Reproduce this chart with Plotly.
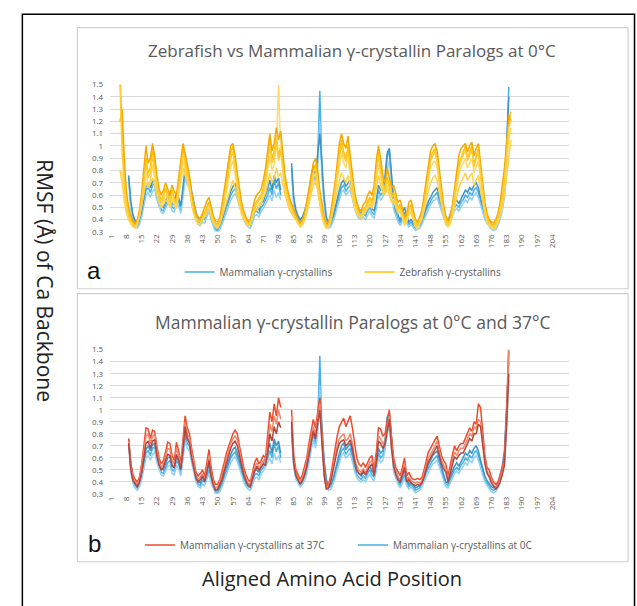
import plotly.graph_objects as go

W, H = 637, 606

# ---------------- data ----------------
tick_positions = [1, 8, 15, 22, 29, 36, 43, 50, 57, 64, 71, 78, 85, 92, 99, 106, 113, 120,
                  127, 134, 141, 148, 155, 162, 169, 176, 183, 190, 197, 204]
tick_labels = [str(t) for t in tick_positions]
y_ticks = [0.3, 0.4, 0.5, 0.6, 0.7, 0.8, 0.9, 1.0, 1.1, 1.2, 1.3, 1.4, 1.5]
y_tick_labels = ["0.3", "0.4", "0.5", "0.6", "0.7", "0.8", "0.9", "1", "1.1", "1.2", "1.3", "1.4", "1.5"]

MAM_START = 9   # first aligned position of mammalian series
ZF_START = 5    # first aligned position of zebrafish series

# Mammalian gamma-crystallins at 0 C (positions 9..184, gap 80-83)
mam0_1 = [0.74,0.52,0.42,0.37,0.35,0.38,0.45,0.55,0.64,0.66,
          0.62,0.68,0.69,0.60,0.53,0.48,0.47,0.52,0.56,0.58,
          0.50,0.49,0.58,0.55,0.48,0.62,0.79,0.72,0.70,0.60,
          0.50,0.43,0.38,0.37,0.41,0.40,0.45,0.50,0.42,0.36,
          0.32,0.31,0.34,0.38,0.44,0.50,0.55,0.60,0.63,0.65,
          0.60,0.54,0.48,0.42,0.38,0.36,0.35,0.40,0.46,0.47,
          0.45,0.50,0.52,0.56,0.60,0.66,0.60,0.72,0.65,0.70,
          0.60,None,None,None,None,0.82,0.55,0.45,0.41,0.38,
          0.40,0.44,0.50,0.58,0.70,0.80,0.72,0.88,1.45,0.80,
          0.55,0.40,0.35,0.36,0.40,0.46,0.54,0.60,0.66,0.68,
          0.63,0.66,0.68,0.60,0.52,0.46,0.44,0.42,0.45,0.43,
          0.47,0.50,0.46,0.44,0.52,0.64,0.60,0.62,0.70,0.90,
          0.97,0.70,0.52,0.46,0.40,0.37,0.42,0.46,0.40,0.36,
          0.38,0.35,0.33,0.34,0.35,0.38,0.42,0.48,0.52,0.55,
          0.58,0.60,0.62,0.55,0.50,0.44,0.38,0.37,0.42,0.46,
          0.50,0.52,0.50,0.54,0.56,0.60,0.58,0.62,0.60,0.64,
          0.66,0.62,0.55,0.48,0.42,0.39,0.36,0.34,0.33,0.34,
          0.37,0.42,0.50,0.62,0.95,1.48]
mam0_2 = [0.72,0.48,0.39,0.35,0.33,0.36,0.42,0.52,0.60,0.62,
          0.58,0.63,0.65,0.56,0.50,0.46,0.45,0.49,0.53,0.54,
          0.47,0.46,0.54,0.51,0.45,0.58,0.74,0.68,0.66,0.56,
          0.47,0.40,0.36,0.35,0.38,0.37,0.42,0.47,0.39,0.34,
          0.30,0.30,0.32,0.36,0.41,0.47,0.52,0.56,0.59,0.61,
          0.57,0.51,0.45,0.40,0.36,0.34,0.33,0.37,0.43,0.44,
          0.42,0.47,0.49,0.52,0.56,0.60,0.55,0.64,0.58,0.62,
          0.56,None,None,None,None,0.78,0.52,0.42,0.39,0.36,
          0.38,0.41,0.47,0.55,0.66,0.75,0.68,0.80,1.20,0.74,
          0.52,0.38,0.33,0.34,0.38,0.43,0.50,0.56,0.62,0.64,
          0.60,0.62,0.64,0.57,0.49,0.44,0.41,0.40,0.42,0.40,
          0.44,0.47,0.43,0.41,0.49,0.60,0.56,0.58,0.66,0.80,
          0.88,0.65,0.48,0.43,0.38,0.35,0.39,0.43,0.37,0.34,
          0.36,0.33,0.31,0.32,0.33,0.36,0.40,0.45,0.49,0.52,
          0.55,0.56,0.58,0.52,0.47,0.41,0.36,0.35,0.39,0.43,
          0.47,0.49,0.47,0.50,0.53,0.56,0.54,0.58,0.56,0.60,
          0.62,0.58,0.52,0.45,0.40,0.37,0.34,0.32,0.31,0.32,
          0.35,0.40,0.47,0.58,0.85,1.25]
mam0_3 = [0.76,0.55,0.44,0.39,0.37,0.40,0.48,0.58,0.67,0.70,
          0.66,0.71,0.72,0.63,0.56,0.51,0.50,0.55,0.60,0.61,
          0.53,0.52,0.61,0.58,0.51,0.66,0.82,0.76,0.73,0.63,
          0.53,0.46,0.41,0.39,0.44,0.43,0.49,0.54,0.45,0.38,
          0.34,0.33,0.36,0.40,0.47,0.53,0.58,0.63,0.67,0.69,
          0.64,0.57,0.51,0.45,0.40,0.38,0.37,0.43,0.49,0.50,
          0.48,0.53,0.55,0.60,0.65,0.72,0.64,0.76,0.70,0.74,
          0.64,None,None,None,None,0.86,0.58,0.48,0.43,0.40,
          0.42,0.47,0.53,0.62,0.74,0.84,0.76,0.92,1.10,0.85,
          0.58,0.42,0.37,0.38,0.42,0.49,0.57,0.64,0.70,0.72,
          0.67,0.70,0.72,0.64,0.55,0.49,0.47,0.45,0.48,0.46,
          0.50,0.53,0.49,0.47,0.55,0.68,0.64,0.66,0.75,0.94,
          0.98,0.75,0.56,0.49,0.43,0.39,0.45,0.50,0.43,0.38,
          0.40,0.37,0.35,0.36,0.37,0.40,0.45,0.51,0.55,0.58,
          0.62,0.64,0.66,0.59,0.53,0.47,0.40,0.39,0.45,0.49,
          0.53,0.56,0.53,0.57,0.60,0.64,0.62,0.66,0.64,0.68,
          0.70,0.66,0.58,0.51,0.45,0.41,0.38,0.36,0.35,0.36,
          0.39,0.45,0.53,0.66,1.00,1.40]

# Mammalian gamma-crystallins at 37 C (positions 9..184, gap 80-83)
mam37_1 = [0.76,0.55,0.46,0.42,0.40,0.44,0.55,0.70,0.85,0.84,
           0.76,0.83,0.82,0.70,0.60,0.55,0.58,0.65,0.73,0.72,
           0.62,0.58,0.73,0.66,0.55,0.75,0.95,0.85,0.80,0.68,
           0.56,0.48,0.45,0.47,0.50,0.45,0.56,0.67,0.52,0.42,
           0.38,0.38,0.42,0.48,0.56,0.64,0.70,0.76,0.80,0.83,
           0.80,0.70,0.60,0.52,0.46,0.42,0.40,0.48,0.56,0.60,
           0.55,0.58,0.62,0.60,0.78,0.98,0.90,1.05,0.95,1.10,
           1.02,None,None,None,None,1.00,0.62,0.50,0.46,0.42,
           0.46,0.52,0.60,0.72,0.84,0.92,0.85,1.00,1.10,0.80,
           0.50,0.37,0.38,0.45,0.56,0.68,0.78,0.86,0.90,0.93,
           0.86,0.90,0.95,0.85,0.70,0.60,0.55,0.53,0.56,0.52,
           0.56,0.60,0.62,0.50,0.65,0.85,0.84,0.78,0.80,0.92,
           1.00,0.78,0.60,0.52,0.48,0.45,0.52,0.60,0.45,0.48,
           0.44,0.42,0.42,0.43,0.42,0.44,0.50,0.58,0.65,0.68,
           0.72,0.75,0.78,0.70,0.62,0.58,0.55,0.45,0.55,0.62,
           0.70,0.66,0.70,0.72,0.72,0.76,0.80,0.85,0.82,0.90,
           0.88,1.05,1.02,0.80,0.62,0.52,0.50,0.44,0.40,0.38,
           0.40,0.45,0.52,0.60,1.00,1.55]
mam37_2 = [0.74,0.52,0.43,0.40,0.38,0.42,0.52,0.65,0.78,0.80,
           0.72,0.78,0.80,0.66,0.57,0.52,0.55,0.62,0.68,0.67,
           0.58,0.55,0.68,0.62,0.52,0.70,0.90,0.80,0.76,0.64,
           0.53,0.45,0.42,0.44,0.47,0.42,0.52,0.62,0.48,0.39,
           0.35,0.36,0.40,0.45,0.52,0.60,0.66,0.72,0.76,0.78,
           0.75,0.66,0.56,0.48,0.43,0.39,0.38,0.45,0.52,0.56,
           0.52,0.55,0.58,0.57,0.70,0.88,0.82,0.95,0.88,1.00,
           0.92,None,None,None,None,0.95,0.58,0.47,0.43,0.40,
           0.43,0.49,0.56,0.67,0.78,0.86,0.80,0.95,1.05,0.75,
           0.47,0.35,0.36,0.42,0.52,0.62,0.70,0.76,0.78,0.80,
           0.74,0.76,0.80,0.72,0.60,0.53,0.50,0.48,0.51,0.48,
           0.52,0.56,0.58,0.47,0.60,0.78,0.76,0.72,0.74,0.86,
           0.95,0.72,0.56,0.48,0.44,0.42,0.48,0.55,0.42,0.44,
           0.41,0.40,0.39,0.40,0.39,0.41,0.47,0.54,0.60,0.63,
           0.66,0.70,0.74,0.66,0.58,0.54,0.51,0.42,0.51,0.57,
           0.65,0.62,0.66,0.68,0.68,0.72,0.76,0.80,0.78,0.86,
           0.84,0.92,0.90,0.74,0.58,0.49,0.46,0.41,0.37,0.35,
           0.37,0.42,0.48,0.56,0.92,1.50]
mam37_3 = [0.72,0.50,0.41,0.38,0.36,0.40,0.48,0.60,0.72,0.74,
           0.68,0.74,0.75,0.62,0.54,0.50,0.52,0.58,0.63,0.62,
           0.54,0.52,0.63,0.58,0.50,0.66,0.86,0.76,0.72,0.60,
           0.50,0.43,0.40,0.42,0.45,0.40,0.48,0.58,0.45,0.37,
           0.33,0.34,0.38,0.42,0.49,0.56,0.62,0.68,0.72,0.74,
           0.70,0.62,0.53,0.46,0.41,0.37,0.36,0.43,0.49,0.53,
           0.50,0.52,0.55,0.54,0.64,0.80,0.74,0.86,0.80,0.90,
           0.85,None,None,None,None,0.90,0.55,0.45,0.41,0.38,
           0.41,0.46,0.53,0.63,0.74,0.82,0.76,0.90,1.00,0.72,
           0.45,0.34,0.35,0.40,0.49,0.58,0.66,0.72,0.74,0.75,
           0.70,0.72,0.75,0.68,0.57,0.50,0.47,0.46,0.49,0.46,
           0.50,0.53,0.55,0.45,0.57,0.74,0.72,0.68,0.71,0.82,
           0.92,0.68,0.53,0.46,0.42,0.40,0.46,0.52,0.40,0.42,
           0.39,0.38,0.37,0.38,0.37,0.39,0.44,0.51,0.57,0.60,
           0.63,0.66,0.70,0.62,0.55,0.51,0.48,0.40,0.48,0.54,
           0.61,0.59,0.62,0.64,0.64,0.68,0.72,0.76,0.74,0.80,
           0.80,0.88,0.86,0.70,0.55,0.47,0.44,0.39,0.36,0.34,
           0.36,0.40,0.46,0.54,0.88,1.30]

# Zebrafish gamma-crystallins at 0 C (positions 5..185)
zf_1 = [1.60,1.10,0.75,0.55,0.45,0.40,0.37,0.35,0.38,0.45,
        0.58,0.75,0.90,0.78,0.82,0.98,0.85,0.70,0.60,0.56,
        0.60,0.66,0.60,0.56,0.64,0.58,0.55,0.68,0.85,0.98,
        0.88,0.80,0.72,0.58,0.48,0.42,0.40,0.39,0.42,0.46,
        0.50,0.54,0.46,0.40,0.37,0.36,0.40,0.48,0.58,0.70,
        0.82,0.95,1.00,0.85,0.72,0.60,0.50,0.44,0.40,0.37,
        0.38,0.45,0.52,0.55,0.58,0.60,0.66,0.75,0.90,1.05,
        0.90,0.95,1.10,0.90,1.00,0.85,0.70,0.62,0.55,0.50,
        0.46,0.42,0.38,0.36,0.38,0.42,0.50,0.60,0.70,0.80,
        0.85,0.75,0.60,0.48,0.40,0.35,0.36,0.42,0.52,0.65,
        0.80,0.95,1.05,0.95,0.90,1.00,0.85,0.70,0.58,0.50,
        0.46,0.44,0.48,0.50,0.55,0.58,0.55,0.62,0.80,0.95,
        0.82,0.70,0.65,0.75,0.68,0.60,0.62,0.55,0.50,0.52,
        0.45,0.40,0.42,0.50,0.52,0.45,0.38,0.36,0.40,0.45,
        0.55,0.68,0.80,0.90,0.95,0.98,0.90,0.75,0.60,0.48,
        0.40,0.37,0.40,0.48,0.60,0.72,0.85,0.90,0.95,1.00,
        0.90,0.95,1.00,0.85,0.92,0.98,0.80,0.62,0.50,0.42,
        0.38,0.36,0.35,0.38,0.42,0.50,0.60,0.75,0.95,1.20,
        1.28]
zf_2 = [0.80,0.78,0.62,0.48,0.40,0.36,0.34,0.33,0.36,0.42,
        0.52,0.66,0.78,0.68,0.72,0.85,0.74,0.62,0.55,0.52,
        0.55,0.60,0.56,0.52,0.58,0.54,0.50,0.62,0.76,0.88,
        0.80,0.72,0.64,0.52,0.44,0.39,0.37,0.36,0.39,0.43,
        0.46,0.50,0.43,0.38,0.35,0.34,0.37,0.44,0.52,0.62,
        0.72,0.82,0.88,0.76,0.64,0.54,0.46,0.41,0.38,0.35,
        0.36,0.42,0.48,0.50,0.53,0.55,0.60,0.68,0.80,0.92,
        0.80,0.85,1.00,1.50,0.95,0.78,0.64,0.57,0.51,0.47,
        0.43,0.40,0.36,0.34,0.36,0.40,0.47,0.56,0.65,0.74,
        0.78,0.68,0.55,0.44,0.37,0.33,0.34,0.39,0.48,0.60,
        0.72,0.85,0.95,0.86,0.82,0.90,0.76,0.63,0.53,0.46,
        0.43,0.41,0.45,0.47,0.51,0.54,0.51,0.57,0.72,0.85,
        0.74,0.64,0.60,0.68,0.62,0.55,0.57,0.51,0.46,0.48,
        0.42,0.37,0.39,0.46,0.48,0.42,0.35,0.34,0.37,0.42,
        0.50,0.62,0.72,0.82,0.86,0.88,0.82,0.68,0.55,0.44,
        0.37,0.35,0.37,0.44,0.55,0.66,0.76,0.82,0.86,0.90,
        0.82,0.86,0.90,0.78,0.84,0.88,0.72,0.57,0.46,0.39,
        0.35,0.34,0.33,0.35,0.39,0.46,0.55,0.68,0.85,1.05,
        1.15]
zf_3 = [1.20,1.30,0.90,0.62,0.50,0.43,0.39,0.37,0.40,0.48,
        0.62,0.82,1.00,0.86,0.90,1.02,0.92,0.76,0.65,0.60,
        0.64,0.70,0.65,0.60,0.68,0.63,0.60,0.74,0.92,1.02,
        0.94,0.86,0.76,0.62,0.52,0.45,0.42,0.41,0.45,0.50,
        0.55,0.58,0.50,0.43,0.39,0.38,0.42,0.52,0.64,0.76,
        0.88,1.00,1.02,0.92,0.78,0.65,0.54,0.47,0.42,0.39,
        0.40,0.48,0.56,0.60,0.62,0.65,0.72,0.82,0.98,1.10,
        0.96,1.02,1.15,1.05,1.12,0.92,0.76,0.66,0.58,0.53,
        0.49,0.45,0.40,0.38,0.40,0.45,0.54,0.65,0.76,0.86,
        0.90,0.80,0.64,0.51,0.42,0.37,0.38,0.45,0.56,0.70,
        0.86,1.02,1.10,1.02,0.98,1.08,0.92,0.76,0.63,0.54,
        0.49,0.47,0.52,0.54,0.60,0.63,0.60,0.68,0.88,1.00,
        0.90,0.76,0.70,0.82,0.74,0.66,0.68,0.60,0.54,0.56,
        0.48,0.42,0.45,0.54,0.56,0.48,0.40,0.38,0.42,0.48,
        0.60,0.74,0.88,0.96,1.00,1.02,0.96,0.80,0.65,0.52,
        0.43,0.39,0.43,0.52,0.65,0.78,0.92,0.98,1.00,1.02,
        0.95,1.00,1.03,0.92,0.98,1.02,0.86,0.68,0.54,0.45,
        0.40,0.38,0.37,0.40,0.45,0.54,0.66,0.82,1.02,1.25,
        1.20]
zf_4 = [1.50,0.95,0.70,0.52,0.43,0.38,0.36,0.34,0.37,0.44,
        0.56,0.72,0.86,0.74,0.78,0.92,0.80,0.66,0.58,0.54,
        0.58,0.64,0.58,0.54,0.62,0.56,0.53,0.66,0.82,0.94,
        0.84,0.76,0.68,0.55,0.46,0.41,0.39,0.38,0.41,0.45,
        0.48,0.52,0.45,0.39,0.36,0.35,0.39,0.46,0.56,0.67,
        0.78,0.90,0.95,0.82,0.70,0.58,0.48,0.43,0.39,0.36,
        0.37,0.44,0.50,0.53,0.56,0.58,0.64,0.72,0.86,1.00,
        0.86,0.92,1.05,0.88,0.96,0.82,0.68,0.60,0.53,0.49,
        0.45,0.41,0.37,0.35,0.37,0.41,0.49,0.58,0.68,0.78,
        0.82,0.72,0.58,0.46,0.39,0.34,0.35,0.41,0.50,0.63,
        0.77,0.92,1.00,0.92,0.87,0.96,0.82,0.68,0.56,0.48,
        0.45,0.43,0.47,0.49,0.53,0.56,0.53,0.60,0.77,0.92,
        0.79,0.68,0.63,0.72,0.66,0.58,0.60,0.53,0.48,0.50,
        0.44,0.39,0.41,0.48,0.50,0.44,0.37,0.35,0.39,0.44,
        0.53,0.66,0.78,0.88,0.92,0.95,0.88,0.72,0.58,0.47,
        0.39,0.36,0.39,0.47,0.58,0.70,0.82,0.88,0.92,0.97,
        0.88,0.92,0.97,0.83,0.90,0.95,0.78,0.60,0.48,0.41,
        0.37,0.35,0.34,0.37,0.41,0.49,0.58,0.72,0.92,1.15,
        1.22]
zf_5 = [0.80,0.70,0.55,0.45,0.40,0.37,0.35,0.34,0.37,0.43,
        0.52,0.62,0.70,0.66,0.70,0.74,0.68,0.60,0.54,0.50,
        0.52,0.56,0.54,0.50,0.56,0.52,0.49,0.60,0.72,0.82,
        0.76,0.72,0.64,0.52,0.44,0.39,0.37,0.36,0.40,0.42,
        0.46,0.50,0.42,0.37,0.34,0.33,0.36,0.42,0.50,0.56,
        0.62,0.68,0.72,0.66,0.58,0.50,0.44,0.40,0.37,0.35,
        0.36,0.42,0.47,0.48,0.50,0.53,0.57,0.62,0.70,0.78,
        0.70,0.74,0.82,0.75,0.78,0.68,0.60,0.54,0.48,0.45,
        0.42,0.39,0.36,0.34,0.36,0.39,0.45,0.52,0.60,0.68,
        0.72,0.64,0.52,0.42,0.36,0.33,0.34,0.38,0.46,0.55,
        0.64,0.72,0.78,0.74,0.70,0.76,0.68,0.58,0.50,0.45,
        0.43,0.41,0.44,0.46,0.49,0.52,0.49,0.54,0.66,0.76,
        0.68,0.62,0.60,0.66,0.60,0.54,0.55,0.49,0.45,0.46,
        0.41,0.36,0.38,0.44,0.46,0.40,0.34,0.33,0.36,0.40,
        0.47,0.56,0.64,0.70,0.74,0.76,0.72,0.62,0.52,0.43,
        0.36,0.34,0.36,0.42,0.50,0.58,0.66,0.70,0.74,0.78,
        0.72,0.75,0.78,0.68,0.72,0.76,0.64,0.52,0.44,0.38,
        0.35,0.33,0.32,0.34,0.37,0.43,0.50,0.60,0.75,0.95,
        1.05]

mam0_series = [mam0_1, mam0_2, mam0_3]
mam37_series = [mam37_1, mam37_2, mam37_3]
zf_series = [zf_1, zf_2, zf_3, zf_4, zf_5]

blue_colors = ["#45B0E5", "#8FD0F2", "#3D93C8"]
red_colors = ["#EE4B2B", "#F2876E", "#B5443C"]
yellow_colors = ["#FFC000", "#FFD966", "#F5A800", "#FFCC33", "#FFD24D"]

GRID = "#D9D9D9"
TXT = "#595959"
FONT = "Open Sans"
LW = 1.5


def positions(start, vals):
    return list(range(start, start + len(vals)))


fig = go.Figure()

# ---- panel a ----
for i, v in enumerate(mam0_series):
    fig.add_trace(go.Scatter(x=positions(MAM_START, v), y=v, mode="lines",
                             line=dict(color=blue_colors[i], width=LW),
                             name="Mammalian γ-crystallins", legend="legend",
                             showlegend=(i == 0), xaxis="x", yaxis="y",
                             connectgaps=False, hoverinfo="skip"))
for i, v in enumerate(zf_series):
    fig.add_trace(go.Scatter(x=positions(ZF_START, v), y=v, mode="lines",
                             line=dict(color=yellow_colors[i], width=LW),
                             name="Zebrafish γ-crystallins", legend="legend",
                             showlegend=(i == 0), xaxis="x", yaxis="y",
                             hoverinfo="skip"))

# ---- panel b ----
for i, v in enumerate(mam0_series):
    fig.add_trace(go.Scatter(x=positions(MAM_START, v), y=v, mode="lines",
                             line=dict(color=blue_colors[i], width=LW),
                             name="Mammalian γ-crystallins at 0C", legend="legend2",
                             legendrank=2, showlegend=(i == 0), xaxis="x2", yaxis="y2",
                             connectgaps=False, hoverinfo="skip"))
for i, v in enumerate(mam37_series):
    fig.add_trace(go.Scatter(x=positions(MAM_START, v), y=v, mode="lines",
                             line=dict(color=red_colors[i], width=LW),
                             name="Mammalian γ-crystallins at 37C", legend="legend2",
                             legendrank=1, showlegend=(i == 0), xaxis="x2", yaxis="y2",
                             connectgaps=False, hoverinfo="skip"))


def px(p):
    return p / W


def py(p):
    return 1 - p / H


xaxis_common = dict(range=[0.5, 211.5], tickmode="array", tickvals=tick_positions,
                    ticktext=tick_labels, tickangle=-90, showgrid=False, zeroline=False,
                    showline=False, ticks="", tickfont=dict(size=8, color=TXT, family=FONT),
                    domain=[px(106), px(568)])
yaxis_common = dict(range=[0.3, 1.5], tickmode="array", tickvals=y_ticks,
                    ticktext=y_tick_labels, showgrid=True, gridcolor=GRID, gridwidth=1,
                    zeroline=False, showline=False, ticks="", ticklabelstandoff=6,
                    tickfont=dict(size=8, color=TXT, family=FONT))

shapes = [
    # outer black frame
    dict(type="rect", xref="paper", yref="paper", x0=px(17.5), x1=px(634.5), y0=py(625), y1=py(8.5),
         line=dict(color="black", width=1.5), fillcolor="rgba(0,0,0,0)", layer="below"),
    # panel a frame
    dict(type="rect", xref="paper", yref="paper", x0=px(73), x1=px(628), y0=py(288), y1=py(22),
         line=dict(color="#D0D0D0", width=1.2), fillcolor="white", layer="below"),
    # panel b frame
    dict(type="rect", xref="paper", yref="paper", x0=px(73), x1=px(628), y0=py(566), y1=py(293),
         line=dict(color="#D0D0D0", width=1.2), fillcolor="white", layer="below"),
]

annotations = [
    dict(text="Zebrafish vs Mammalian γ-crystallin Paralogs at 0°C", x=px(350), y=py(45),
         xref="paper", yref="paper", showarrow=False, xanchor="center", yanchor="middle",
         font=dict(size=17, color=TXT, family=FONT)),
    dict(text="Mammalian γ-crystallin Paralogs at 0°C and 37°C", x=px(350), y=py(322),
         xref="paper", yref="paper", showarrow=False, xanchor="center", yanchor="middle",
         font=dict(size=17.5, color=TXT, family=FONT)),
    dict(text="a", x=px(90), y=py(269), xref="paper", yref="paper", showarrow=False,
         xanchor="center", yanchor="middle", font=dict(size=24, color="#111111", family="Liberation Sans")),
    dict(text="b", x=px(90), y=py(547), xref="paper", yref="paper", showarrow=False,
         xanchor="center", yanchor="middle", font=dict(size=24, color="#111111", family="Liberation Sans")),
    dict(text="Aligned Amino Acid Position", x=px(330), y=py(583), xref="paper", yref="paper",
         showarrow=False, xanchor="center", yanchor="middle",
         font=dict(size=20, color="#222222", family=FONT)),
    dict(text="RMSF (Å) of Ca Backbone", x=px(40), y=py(280), xref="paper", yref="paper",
         showarrow=False, xanchor="center", yanchor="middle", textangle=90,
         font=dict(size=21, color="#222222", family=FONT)),
]

fig.update_layout(
    width=W, height=H, margin=dict(l=0, r=0, t=0, b=0),
    paper_bgcolor="white", plot_bgcolor="rgba(0,0,0,0)",
    font=dict(family=FONT, color=TXT),
    xaxis=dict(**xaxis_common, anchor="y"),
    yaxis=dict(**yaxis_common, domain=[py(230), py(80)], anchor="x"),
    xaxis2=dict(**xaxis_common, anchor="y2"),
    yaxis2=dict(**yaxis_common, domain=[py(497), py(350)], anchor="x2"),
    legend=dict(orientation="h", x=px(176), y=py(271), xanchor="left", yanchor="middle",
                font=dict(size=10, color=TXT, family=FONT), bgcolor="rgba(0,0,0,0)",
                entrywidth=135, itemwidth=30, tracegroupgap=0),
    legend2=dict(orientation="h", x=px(136), y=py(549), xanchor="left", yanchor="middle",
                 font=dict(size=10, color=TXT, family=FONT), bgcolor="rgba(0,0,0,0)",
                 entrywidth=168, itemwidth=30, tracegroupgap=0),
    shapes=shapes, annotations=annotations, showlegend=True,
)

fig.write_html("out.html", config={"displayModeBar": False},
               post_script="document.body.style.margin='0';document.body.style.overflow='hidden';")
